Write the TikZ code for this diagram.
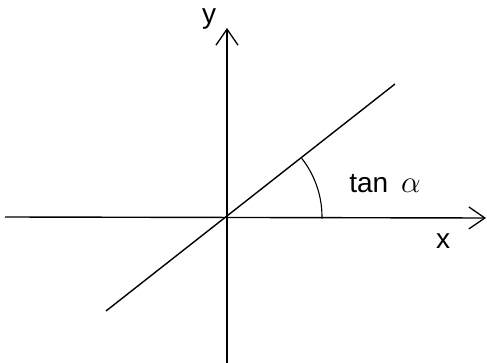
\documentclass[tikz,border=0pt]{standalone}
\usepackage{fontspec}
\setmainfont{Liberation Sans}
\usetikzlibrary{arrows.meta}
\begin{document}
\begin{tikzpicture}[x=1pt,y=-1pt,
  axis/.style={line width=1.4pt,-{Straight Barb[length=16pt,width=22pt,line width=1.3pt]}},
  lbl/.style={font=\fontsize{28}{30}\selectfont,inner sep=0pt}]
\useasboundingbox (0,0) rectangle (487,363);
\coordinate (O) at (227,217);
\coordinate (xl) at (5,217);
\coordinate (xr) at (486,218);
\coordinate (yb) at (227,363);
\coordinate (yt) at (227,28);
\coordinate (la) at (106,311);
\coordinate (lb) at (395,84);
\draw[axis] (xl) -- (xr);
\draw[axis] (yb) -- (yt);
\draw[line width=1.4pt] (la) -- (lb);
\draw[line width=1.1pt] (O) ++(-38.2:95) arc[start angle=-38.2,end angle=1,radius=95];
\node[lbl] (tl) at (385,184) {tan\hspace{13pt}\scalebox{1.25}{$\alpha$}};
\node[lbl] (xlab) at (443,241) {x};
\node[lbl] (ylab) at (209,19) {y};
\end{tikzpicture}
\end{document}
